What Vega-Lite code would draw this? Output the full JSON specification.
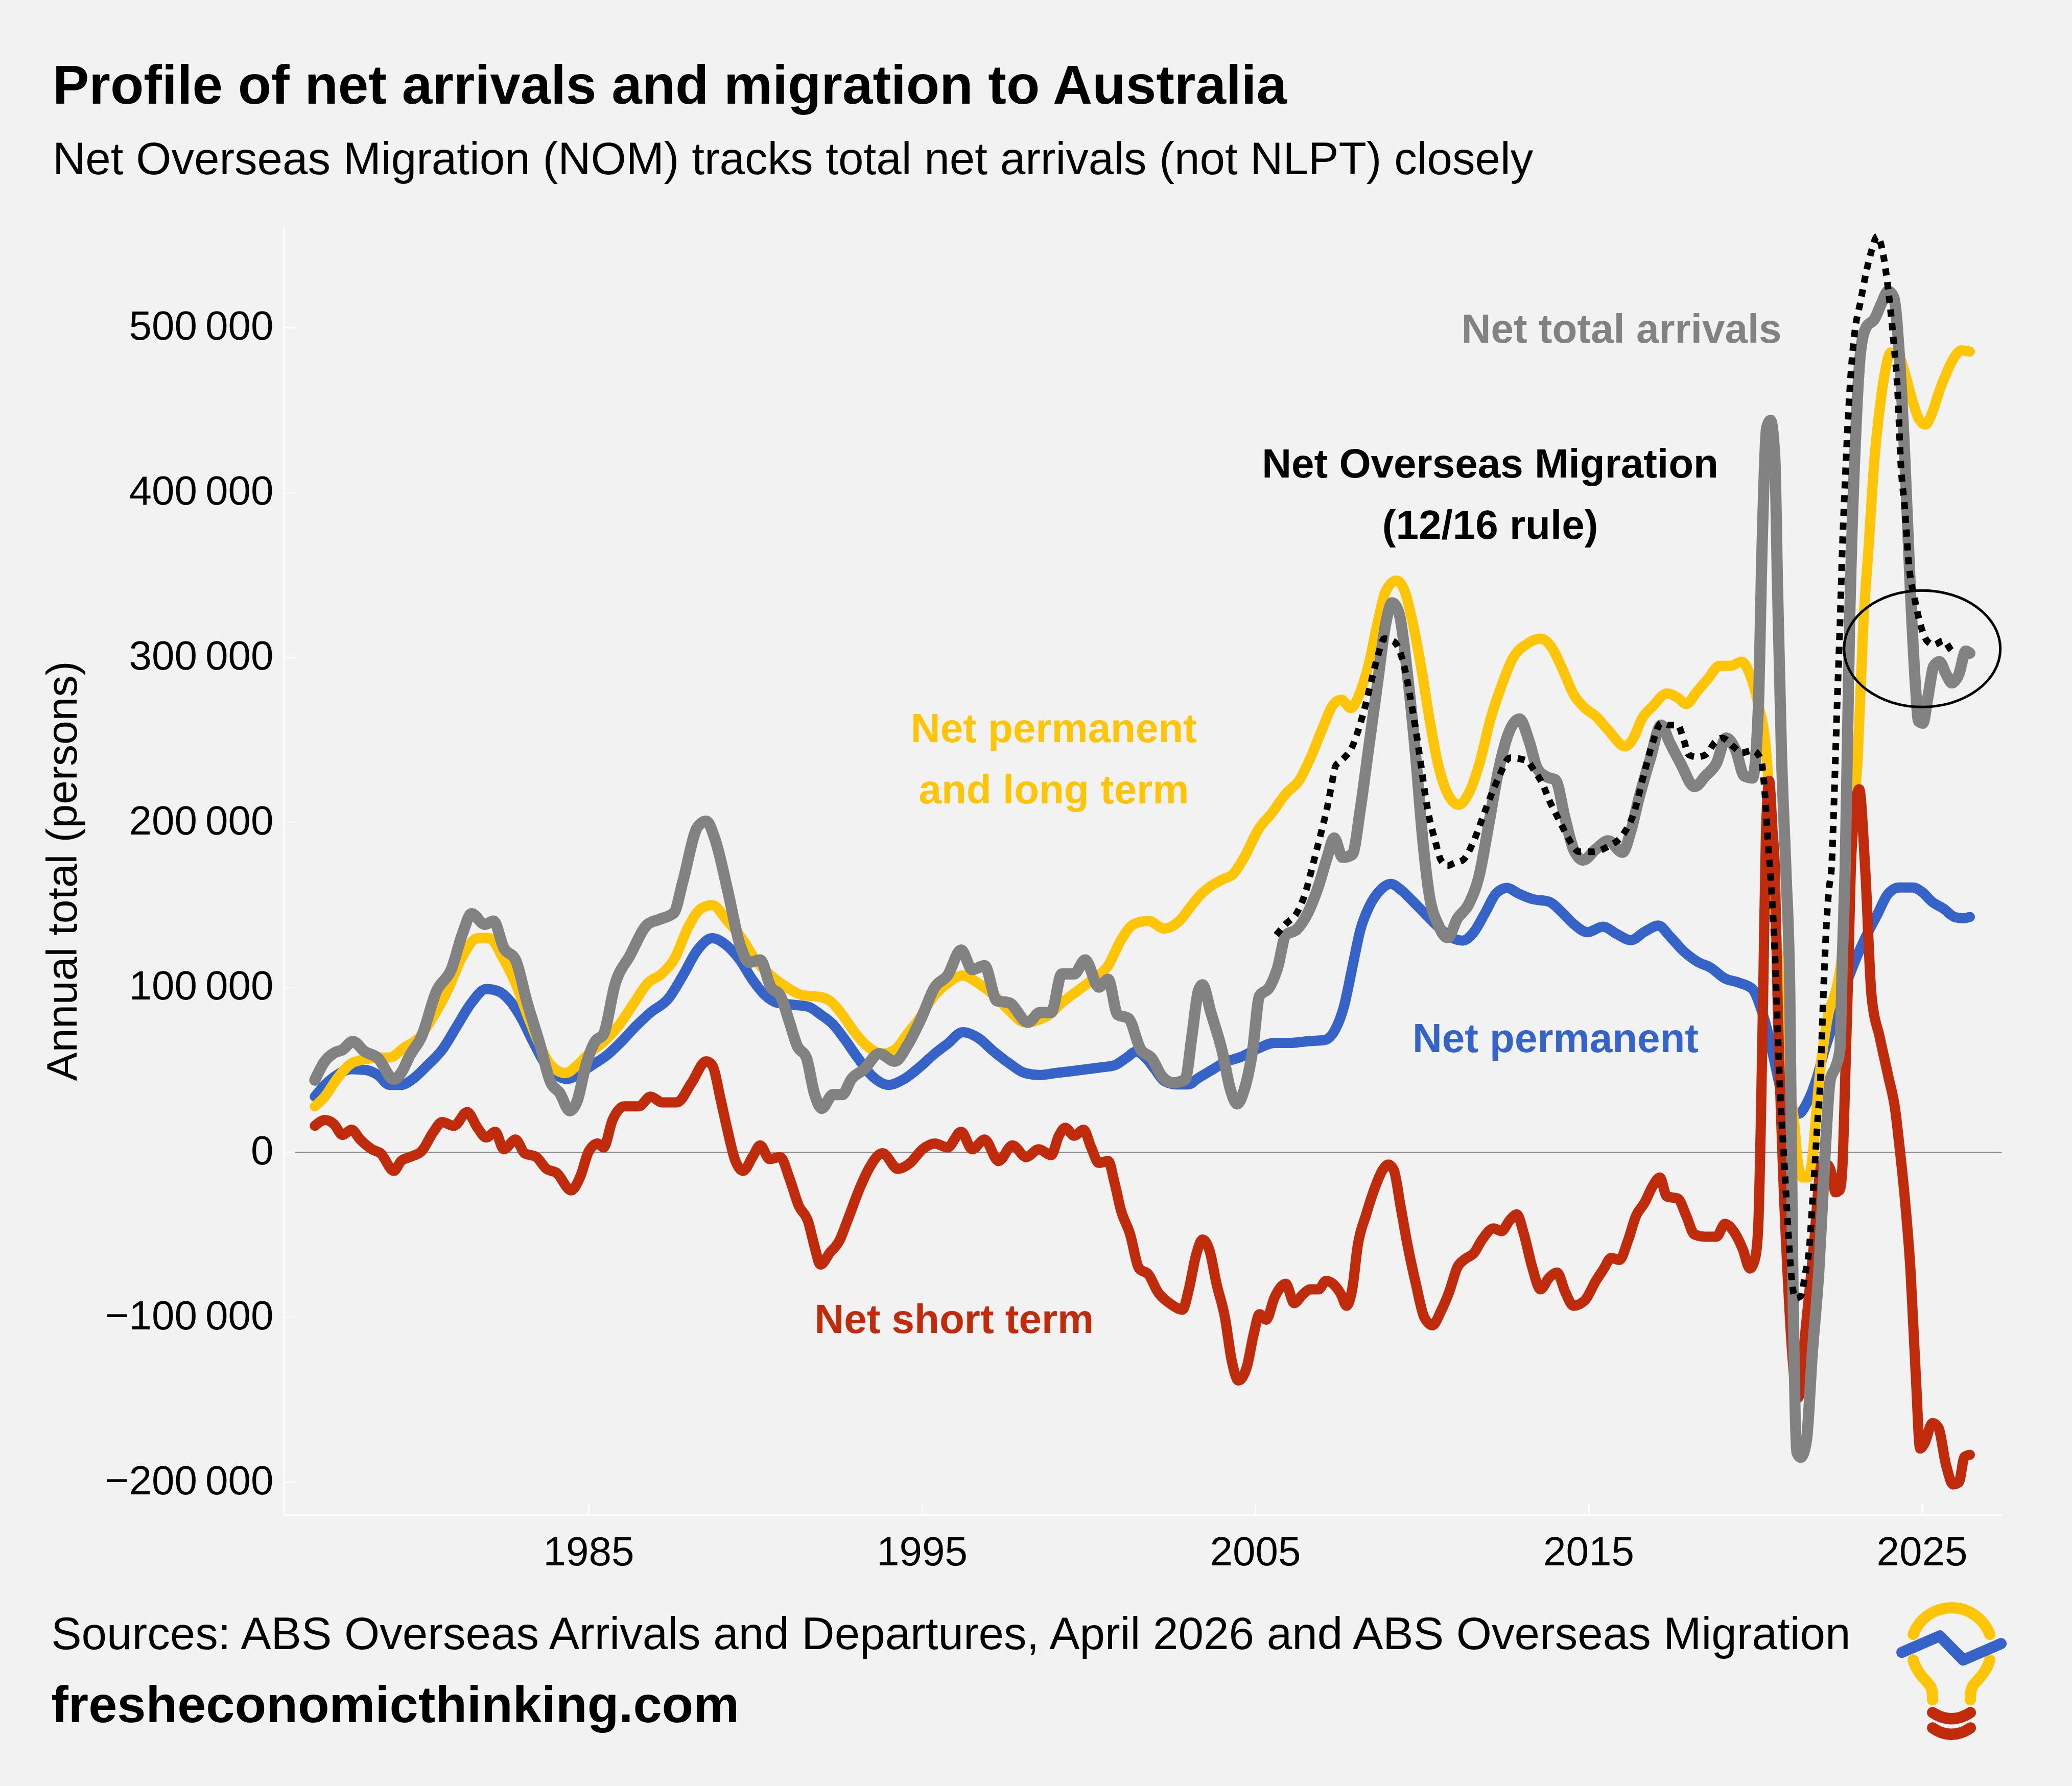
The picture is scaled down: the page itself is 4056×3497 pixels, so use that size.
{
  "$schema": "https://vega.github.io/schema/vega-lite/v6.json",
  "width": 3363,
  "height": 2521,
  "autosize": "none",
  "padding": {"left": 555, "top": 445, "right": 138, "bottom": 531},
  "background": "#f2f2f2",
  "config": {
    "view": {"stroke": null},
    "font": "Liberation Sans",
    "axis": {"labelFont": "Liberation Sans", "titleFont": "Liberation Sans"},
    "text": {"font": "Liberation Sans"}
  },
  "title": {
    "text": "Profile of net arrivals and migration to Australia",
    "subtitle": "Net Overseas Migration (NOM) tracks total net arrivals (not NLPT) closely",
    "anchor": "start", "frame": "group", "dx": -452, "offset": 76, "subtitlePadding": 46,
    "font": "Liberation Sans", "fontSize": 107, "fontWeight": "bold", "color": "black",
    "subtitleFont": "Liberation Sans", "subtitleFontSize": 89, "subtitleColor": "black"
  },
  "datasets": {
    "permanent": [
      {"year": 1976.79, "value": 33600}, {"year": 1977.09, "value": 40700}, {"year": 1977.45, "value": 46700},
      {"year": 1977.89, "value": 50200}, {"year": 1978.33, "value": 49700}, {"year": 1978.68, "value": 46700},
      {"year": 1979.03, "value": 40700}, {"year": 1979.38, "value": 40700}, {"year": 1979.73, "value": 44300},
      {"year": 1980.17, "value": 52600}, {"year": 1980.61, "value": 62000}, {"year": 1981.05, "value": 76300},
      {"year": 1981.49, "value": 90500}, {"year": 1981.93, "value": 98800}, {"year": 1982.28, "value": 97600},
      {"year": 1982.64, "value": 91700}, {"year": 1982.99, "value": 81000}, {"year": 1983.34, "value": 66800},
      {"year": 1983.69, "value": 53800}, {"year": 1984.04, "value": 46700}, {"year": 1984.35, "value": 44300},
      {"year": 1984.75, "value": 47900}, {"year": 1985.10, "value": 52600}, {"year": 1985.54, "value": 58500},
      {"year": 1985.98, "value": 66800}, {"year": 1986.42, "value": 76300}, {"year": 1986.86, "value": 84600},
      {"year": 1987.39, "value": 92900}, {"year": 1987.83, "value": 107000}, {"year": 1988.27, "value": 122500},
      {"year": 1988.71, "value": 129600}, {"year": 1989.17, "value": 124800}, {"year": 1989.54, "value": 116500},
      {"year": 1989.91, "value": 104700}, {"year": 1990.29, "value": 95200}, {"year": 1990.66, "value": 90500},
      {"year": 1991.12, "value": 89300}, {"year": 1991.59, "value": 88100}, {"year": 1991.96, "value": 83400},
      {"year": 1992.33, "value": 77500}, {"year": 1992.70, "value": 68000}, {"year": 1993.07, "value": 57300},
      {"year": 1993.54, "value": 45500}, {"year": 1994.00, "value": 40700}, {"year": 1994.47, "value": 44300},
      {"year": 1994.93, "value": 51400}, {"year": 1995.39, "value": 59700}, {"year": 1995.77, "value": 65600},
      {"year": 1996.23, "value": 72700}, {"year": 1996.69, "value": 69200}, {"year": 1997.16, "value": 60900},
      {"year": 1997.62, "value": 53800}, {"year": 1998.09, "value": 47900}, {"year": 1998.55, "value": 46700},
      {"year": 1999.01, "value": 47900}, {"year": 1999.48, "value": 49000}, {"year": 1999.94, "value": 50200},
      {"year": 2000.41, "value": 51400}, {"year": 2000.78, "value": 52600}, {"year": 2001.15, "value": 57300},
      {"year": 2001.43, "value": 60900}, {"year": 2001.71, "value": 57300}, {"year": 2001.99, "value": 50200},
      {"year": 2002.27, "value": 43100}, {"year": 2002.64, "value": 41000}, {"year": 2003.01, "value": 41000},
      {"year": 2003.26, "value": 44400}, {"year": 2003.67, "value": 49400}, {"year": 2004.09, "value": 54400},
      {"year": 2004.59, "value": 57800}, {"year": 2005.09, "value": 62800}, {"year": 2005.58, "value": 66200},
      {"year": 2006.08, "value": 66200}, {"year": 2006.58, "value": 67200}, {"year": 2007.08, "value": 67900},
      {"year": 2007.41, "value": 74600}, {"year": 2007.66, "value": 88000}, {"year": 2007.91, "value": 111500},
      {"year": 2008.16, "value": 135000}, {"year": 2008.41, "value": 148400}, {"year": 2008.74, "value": 158500},
      {"year": 2009.07, "value": 162500}, {"year": 2009.40, "value": 158500}, {"year": 2009.74, "value": 151800},
      {"year": 2010.07, "value": 145000}, {"year": 2010.48, "value": 136700}, {"year": 2010.90, "value": 129900},
      {"year": 2011.23, "value": 128200}, {"year": 2011.56, "value": 133300}, {"year": 2011.90, "value": 145000},
      {"year": 2012.23, "value": 156800}, {"year": 2012.56, "value": 160100}, {"year": 2012.89, "value": 156800},
      {"year": 2013.31, "value": 153400}, {"year": 2013.81, "value": 151800}, {"year": 2014.22, "value": 145000},
      {"year": 2014.55, "value": 138300}, {"year": 2014.97, "value": 133300}, {"year": 2015.43, "value": 136600},
      {"year": 2015.85, "value": 132200}, {"year": 2016.27, "value": 128400}, {"year": 2016.68, "value": 133500},
      {"year": 2017.10, "value": 137300}, {"year": 2017.43, "value": 131000}, {"year": 2017.84, "value": 122000},
      {"year": 2018.26, "value": 115500}, {"year": 2018.67, "value": 111700}, {"year": 2019.09, "value": 105300},
      {"year": 2019.51, "value": 102700}, {"year": 2019.92, "value": 98800}, {"year": 2020.17, "value": 87300},
      {"year": 2020.42, "value": 69300}, {"year": 2020.59, "value": 53900}, {"year": 2020.79, "value": 36000},
      {"year": 2021.04, "value": 24400}, {"year": 2021.29, "value": 23100}, {"year": 2021.58, "value": 30800},
      {"year": 2021.83, "value": 43600}, {"year": 2022.08, "value": 61600}, {"year": 2022.33, "value": 77000},
      {"year": 2022.66, "value": 97600}, {"year": 2022.99, "value": 115500}, {"year": 2023.33, "value": 130900},
      {"year": 2023.66, "value": 143800}, {"year": 2023.99, "value": 156600}, {"year": 2024.32, "value": 160400},
      {"year": 2024.74, "value": 160400}, {"year": 2024.99, "value": 157900}, {"year": 2025.32, "value": 151500},
      {"year": 2025.65, "value": 147600}, {"year": 2025.98, "value": 142500}, {"year": 2026.23, "value": 141700},
      {"year": 2026.44, "value": 142500}
    ],
    "permanentLongTerm": [
      {"year": 1976.79, "value": 27700}, {"year": 1977.09, "value": 33600}, {"year": 1977.45, "value": 44300},
      {"year": 1977.89, "value": 53800}, {"year": 1978.24, "value": 56000}, {"year": 1978.68, "value": 57300},
      {"year": 1979.03, "value": 57300}, {"year": 1979.47, "value": 63300}, {"year": 1979.91, "value": 69200},
      {"year": 1980.35, "value": 82200}, {"year": 1980.79, "value": 98800}, {"year": 1981.23, "value": 119000},
      {"year": 1981.67, "value": 129600}, {"year": 1982.02, "value": 129600}, {"year": 1982.46, "value": 116500},
      {"year": 1982.81, "value": 102300}, {"year": 1983.16, "value": 83400}, {"year": 1983.52, "value": 65600},
      {"year": 1983.87, "value": 52600}, {"year": 1984.31, "value": 47900}, {"year": 1984.66, "value": 52600},
      {"year": 1985.01, "value": 59700}, {"year": 1985.45, "value": 66800}, {"year": 1985.89, "value": 76300},
      {"year": 1986.33, "value": 89300}, {"year": 1986.77, "value": 102300}, {"year": 1987.21, "value": 108300},
      {"year": 1987.56, "value": 116500}, {"year": 1988.00, "value": 136700}, {"year": 1988.36, "value": 147400},
      {"year": 1988.71, "value": 149700}, {"year": 1989.17, "value": 140000}, {"year": 1989.64, "value": 128400},
      {"year": 1990.01, "value": 116500}, {"year": 1990.47, "value": 107000}, {"year": 1990.94, "value": 100000},
      {"year": 1991.40, "value": 95200}, {"year": 1991.96, "value": 94000}, {"year": 1992.24, "value": 91700},
      {"year": 1992.61, "value": 83400}, {"year": 1992.98, "value": 72700}, {"year": 1993.35, "value": 64400},
      {"year": 1993.82, "value": 59700}, {"year": 1994.19, "value": 62000}, {"year": 1994.56, "value": 71500},
      {"year": 1994.93, "value": 81000}, {"year": 1995.30, "value": 92900}, {"year": 1995.77, "value": 102300},
      {"year": 1996.23, "value": 107000}, {"year": 1996.69, "value": 102300}, {"year": 1997.16, "value": 95200},
      {"year": 1997.62, "value": 85800}, {"year": 1998.09, "value": 78600}, {"year": 1998.46, "value": 79800},
      {"year": 1998.83, "value": 83400}, {"year": 1999.20, "value": 90500}, {"year": 1999.66, "value": 97600},
      {"year": 2000.13, "value": 104700}, {"year": 2000.59, "value": 113000}, {"year": 2000.97, "value": 128400},
      {"year": 2001.34, "value": 137900}, {"year": 2001.80, "value": 140200}, {"year": 2002.27, "value": 135500},
      {"year": 2002.73, "value": 140200}, {"year": 2003.10, "value": 149700}, {"year": 2003.36, "value": 156000},
      {"year": 2003.59, "value": 160100}, {"year": 2004.01, "value": 165200}, {"year": 2004.34, "value": 168500},
      {"year": 2004.67, "value": 178600}, {"year": 2005.09, "value": 195400}, {"year": 2005.50, "value": 205500},
      {"year": 2005.92, "value": 217200}, {"year": 2006.33, "value": 225600}, {"year": 2006.66, "value": 239000},
      {"year": 2007.00, "value": 255800}, {"year": 2007.33, "value": 270900}, {"year": 2007.58, "value": 274200},
      {"year": 2007.87, "value": 269200}, {"year": 2008.16, "value": 279300}, {"year": 2008.41, "value": 296000},
      {"year": 2008.66, "value": 319600}, {"year": 2008.91, "value": 339700}, {"year": 2009.24, "value": 346400},
      {"year": 2009.49, "value": 339700}, {"year": 2009.74, "value": 319600}, {"year": 2009.99, "value": 292700},
      {"year": 2010.23, "value": 262500}, {"year": 2010.48, "value": 235600}, {"year": 2010.82, "value": 215500},
      {"year": 2011.11, "value": 210500}, {"year": 2011.40, "value": 217200}, {"year": 2011.73, "value": 235600},
      {"year": 2012.06, "value": 262500}, {"year": 2012.39, "value": 282600}, {"year": 2012.73, "value": 299400},
      {"year": 2013.14, "value": 307800}, {"year": 2013.56, "value": 311200}, {"year": 2013.89, "value": 306100},
      {"year": 2014.22, "value": 292700}, {"year": 2014.55, "value": 277600}, {"year": 2014.89, "value": 269200},
      {"year": 2015.22, "value": 264200}, {"year": 2015.59, "value": 255800}, {"year": 2016.10, "value": 245900},
      {"year": 2016.35, "value": 251000}, {"year": 2016.60, "value": 262600}, {"year": 2016.93, "value": 270300},
      {"year": 2017.35, "value": 278000}, {"year": 2017.68, "value": 275400}, {"year": 2017.93, "value": 271600},
      {"year": 2018.26, "value": 279300}, {"year": 2018.59, "value": 287000}, {"year": 2018.92, "value": 294700},
      {"year": 2019.26, "value": 294700}, {"year": 2019.59, "value": 297300}, {"year": 2019.84, "value": 289600},
      {"year": 2020.09, "value": 271600}, {"year": 2020.34, "value": 240800}, {"year": 2020.42, "value": 215000},
      {"year": 2020.50, "value": 172000}, {"year": 2020.59, "value": 146300}, {"year": 2020.75, "value": 95000},
      {"year": 2021.00, "value": 43600}, {"year": 2021.17, "value": 18000}, {"year": 2021.29, "value": -7700},
      {"year": 2021.42, "value": -15400}, {"year": 2021.58, "value": -15400}, {"year": 2021.71, "value": -5000},
      {"year": 2021.83, "value": 23000}, {"year": 2021.96, "value": 51400}, {"year": 2022.08, "value": 69300},
      {"year": 2022.21, "value": 85000}, {"year": 2022.33, "value": 92000}, {"year": 2022.45, "value": 100000},
      {"year": 2022.58, "value": 115000}, {"year": 2022.72, "value": 150000}, {"year": 2022.90, "value": 195000},
      {"year": 2023.08, "value": 240800}, {"year": 2023.24, "value": 317800}, {"year": 2023.41, "value": 369000},
      {"year": 2023.58, "value": 420500}, {"year": 2023.74, "value": 451300}, {"year": 2023.91, "value": 474400},
      {"year": 2024.07, "value": 484700}, {"year": 2024.32, "value": 482000}, {"year": 2024.53, "value": 469300},
      {"year": 2024.74, "value": 453900}, {"year": 2024.90, "value": 444900}, {"year": 2025.11, "value": 441000},
      {"year": 2025.32, "value": 448700}, {"year": 2025.53, "value": 461600}, {"year": 2025.73, "value": 471800},
      {"year": 2025.98, "value": 482000}, {"year": 2026.19, "value": 486000}, {"year": 2026.44, "value": 485200}
    ],
    "shortTerm": [
      {"year": 1976.79, "value": 15900}, {"year": 1977.09, "value": 19400}, {"year": 1977.36, "value": 17000},
      {"year": 1977.62, "value": 10400}, {"year": 1977.89, "value": 13500}, {"year": 1978.15, "value": 7600},
      {"year": 1978.50, "value": 1700}, {"year": 1978.76, "value": -700}, {"year": 1979.16, "value": -11400},
      {"year": 1979.38, "value": -5400}, {"year": 1979.64, "value": -3000}, {"year": 1979.99, "value": 500},
      {"year": 1980.35, "value": 12300}, {"year": 1980.61, "value": 18200}, {"year": 1980.96, "value": 15900},
      {"year": 1981.36, "value": 24200}, {"year": 1981.67, "value": 14700}, {"year": 1981.93, "value": 8800},
      {"year": 1982.20, "value": 12300}, {"year": 1982.46, "value": 1700}, {"year": 1982.81, "value": 7600},
      {"year": 1983.08, "value": -700}, {"year": 1983.43, "value": -3000}, {"year": 1983.74, "value": -10200},
      {"year": 1984.04, "value": -12600}, {"year": 1984.48, "value": -23200}, {"year": 1984.75, "value": -15000},
      {"year": 1985.01, "value": 500}, {"year": 1985.28, "value": 5200}, {"year": 1985.45, "value": 2800},
      {"year": 1985.72, "value": 19400}, {"year": 1986.07, "value": 27700}, {"year": 1986.51, "value": 27700},
      {"year": 1986.86, "value": 33600}, {"year": 1987.21, "value": 30100}, {"year": 1987.65, "value": 30100},
      {"year": 1988.09, "value": 41900}, {"year": 1988.53, "value": 55000}, {"year": 1988.71, "value": 52600},
      {"year": 1988.97, "value": 31300}, {"year": 1989.15, "value": 15000}, {"year": 1989.40, "value": -5000},
      {"year": 1989.64, "value": -11400}, {"year": 1989.92, "value": -3000}, {"year": 1990.15, "value": 4000},
      {"year": 1990.43, "value": -4300}, {"year": 1990.75, "value": -3000}, {"year": 1991.03, "value": -16000},
      {"year": 1991.31, "value": -32700}, {"year": 1991.59, "value": -42200}, {"year": 1991.77, "value": -56400},
      {"year": 1991.96, "value": -68200}, {"year": 1992.24, "value": -61100}, {"year": 1992.52, "value": -54000},
      {"year": 1992.80, "value": -39800}, {"year": 1993.16, "value": -20800}, {"year": 1993.44, "value": -9000},
      {"year": 1993.82, "value": -700}, {"year": 1994.28, "value": -10200}, {"year": 1994.65, "value": -6600},
      {"year": 1995.02, "value": 1700}, {"year": 1995.39, "value": 5200}, {"year": 1995.77, "value": 2800},
      {"year": 1996.18, "value": 12300}, {"year": 1996.51, "value": 1700}, {"year": 1996.88, "value": 7600},
      {"year": 1997.30, "value": -5400}, {"year": 1997.72, "value": 4000}, {"year": 1998.13, "value": -3000},
      {"year": 1998.51, "value": 1700}, {"year": 1998.88, "value": -1900}, {"year": 1999.11, "value": 9900},
      {"year": 1999.30, "value": 14700}, {"year": 1999.57, "value": 9900}, {"year": 1999.85, "value": 13500},
      {"year": 2000.08, "value": 2800}, {"year": 2000.31, "value": -6600}, {"year": 2000.59, "value": -5400},
      {"year": 2000.78, "value": -18500}, {"year": 2000.97, "value": -35100}, {"year": 2001.24, "value": -49300},
      {"year": 2001.52, "value": -70600}, {"year": 2001.80, "value": -74200}, {"year": 2002.08, "value": -84800},
      {"year": 2002.45, "value": -91900}, {"year": 2002.82, "value": -95500}, {"year": 2003.01, "value": -83200},
      {"year": 2003.22, "value": -63000}, {"year": 2003.42, "value": -53000}, {"year": 2003.63, "value": -59700},
      {"year": 2003.84, "value": -79800}, {"year": 2004.09, "value": -100000}, {"year": 2004.30, "value": -126800},
      {"year": 2004.50, "value": -138500}, {"year": 2004.75, "value": -130200}, {"year": 2004.96, "value": -110000},
      {"year": 2005.13, "value": -98300}, {"year": 2005.33, "value": -101600}, {"year": 2005.58, "value": -88200},
      {"year": 2005.92, "value": -79800}, {"year": 2006.17, "value": -91600}, {"year": 2006.42, "value": -86500},
      {"year": 2006.66, "value": -83200}, {"year": 2006.91, "value": -83200}, {"year": 2007.12, "value": -78100},
      {"year": 2007.33, "value": -79800}, {"year": 2007.58, "value": -86500}, {"year": 2007.74, "value": -93200},
      {"year": 2007.91, "value": -83200}, {"year": 2008.08, "value": -56300}, {"year": 2008.33, "value": -37800},
      {"year": 2008.57, "value": -22800}, {"year": 2008.82, "value": -11000}, {"year": 2008.99, "value": -7600},
      {"year": 2009.16, "value": -11000}, {"year": 2009.36, "value": -32800}, {"year": 2009.57, "value": -56300},
      {"year": 2009.82, "value": -79800}, {"year": 2010.07, "value": -100000}, {"year": 2010.32, "value": -105000},
      {"year": 2010.57, "value": -96600}, {"year": 2010.82, "value": -84800}, {"year": 2011.07, "value": -69700},
      {"year": 2011.31, "value": -64700}, {"year": 2011.56, "value": -61300}, {"year": 2011.81, "value": -53000},
      {"year": 2012.15, "value": -46300}, {"year": 2012.39, "value": -47900}, {"year": 2012.64, "value": -41200},
      {"year": 2012.85, "value": -37800}, {"year": 2013.06, "value": -49600}, {"year": 2013.31, "value": -69700},
      {"year": 2013.56, "value": -83200}, {"year": 2013.81, "value": -76400}, {"year": 2014.06, "value": -73100},
      {"year": 2014.30, "value": -84800}, {"year": 2014.55, "value": -93200}, {"year": 2014.89, "value": -89900},
      {"year": 2015.22, "value": -78100}, {"year": 2015.45, "value": -71000}, {"year": 2015.68, "value": -64200},
      {"year": 2015.93, "value": -65400}, {"year": 2016.18, "value": -53900}, {"year": 2016.43, "value": -38500},
      {"year": 2016.68, "value": -30800}, {"year": 2016.93, "value": -20500}, {"year": 2017.14, "value": -15400},
      {"year": 2017.35, "value": -26900}, {"year": 2017.68, "value": -28200}, {"year": 2017.93, "value": -38500},
      {"year": 2018.18, "value": -50000}, {"year": 2018.51, "value": -51300}, {"year": 2018.84, "value": -51300},
      {"year": 2019.09, "value": -43600}, {"year": 2019.38, "value": -48800}, {"year": 2019.63, "value": -59000},
      {"year": 2019.84, "value": -70600}, {"year": 2020.00, "value": -64200}, {"year": 2020.09, "value": -46200},
      {"year": 2020.17, "value": 18000}, {"year": 2020.25, "value": 107800}, {"year": 2020.32, "value": 190000},
      {"year": 2020.42, "value": 225000}, {"year": 2020.52, "value": 195000}, {"year": 2020.59, "value": 172000},
      {"year": 2020.67, "value": 95000}, {"year": 2020.83, "value": -7700}, {"year": 2021.00, "value": -84700},
      {"year": 2021.17, "value": -136000}, {"year": 2021.29, "value": -148900}, {"year": 2021.50, "value": -110400},
      {"year": 2021.75, "value": -59000}, {"year": 2022.00, "value": -7700}, {"year": 2022.16, "value": -7700},
      {"year": 2022.29, "value": -12800}, {"year": 2022.41, "value": -24400}, {"year": 2022.54, "value": -23000},
      {"year": 2022.62, "value": -7700}, {"year": 2022.70, "value": 43600}, {"year": 2022.79, "value": 107800},
      {"year": 2022.87, "value": 172000}, {"year": 2022.98, "value": 205000}, {"year": 2023.12, "value": 220000},
      {"year": 2023.30, "value": 172000}, {"year": 2023.49, "value": 95000}, {"year": 2023.74, "value": 69300},
      {"year": 2023.99, "value": 46200}, {"year": 2024.20, "value": 25700}, {"year": 2024.32, "value": 5100},
      {"year": 2024.49, "value": -28200}, {"year": 2024.66, "value": -71900}, {"year": 2024.82, "value": -136000},
      {"year": 2024.95, "value": -179700}, {"year": 2025.07, "value": -177100}, {"year": 2025.32, "value": -164300},
      {"year": 2025.49, "value": -166800}, {"year": 2025.73, "value": -190000}, {"year": 2025.94, "value": -201500},
      {"year": 2026.11, "value": -200200}, {"year": 2026.28, "value": -184800}, {"year": 2026.44, "value": -183500}
    ],
    "totalArrivals": [
      {"year": 1976.79, "value": 43600}, {"year": 1977.09, "value": 55000}, {"year": 1977.36, "value": 60000},
      {"year": 1977.62, "value": 62000}, {"year": 1977.93, "value": 67000}, {"year": 1978.28, "value": 61000},
      {"year": 1978.68, "value": 57000}, {"year": 1979.16, "value": 44000}, {"year": 1979.38, "value": 48000},
      {"year": 1979.64, "value": 58500}, {"year": 1979.99, "value": 70000}, {"year": 1980.44, "value": 97600},
      {"year": 1980.88, "value": 110600}, {"year": 1981.23, "value": 133000}, {"year": 1981.49, "value": 144500},
      {"year": 1981.89, "value": 138000}, {"year": 1982.15, "value": 140000}, {"year": 1982.46, "value": 123700},
      {"year": 1982.81, "value": 116500}, {"year": 1983.16, "value": 90500}, {"year": 1983.52, "value": 66800},
      {"year": 1983.87, "value": 42000}, {"year": 1984.13, "value": 36000}, {"year": 1984.44, "value": 25000},
      {"year": 1984.66, "value": 31000}, {"year": 1984.92, "value": 52600}, {"year": 1985.19, "value": 66800},
      {"year": 1985.45, "value": 71500}, {"year": 1985.80, "value": 102000}, {"year": 1986.24, "value": 119000},
      {"year": 1986.77, "value": 138000}, {"year": 1987.12, "value": 141000}, {"year": 1987.56, "value": 145000},
      {"year": 1987.83, "value": 164000}, {"year": 1988.27, "value": 197000}, {"year": 1988.53, "value": 200600},
      {"year": 1988.79, "value": 190000}, {"year": 1989.17, "value": 159000}, {"year": 1989.54, "value": 126000},
      {"year": 1989.82, "value": 115000}, {"year": 1990.15, "value": 116500}, {"year": 1990.47, "value": 100000},
      {"year": 1990.75, "value": 95000}, {"year": 1991.03, "value": 78600}, {"year": 1991.26, "value": 64400},
      {"year": 1991.54, "value": 57000}, {"year": 1991.77, "value": 36000}, {"year": 1992.00, "value": 26500},
      {"year": 1992.33, "value": 34800}, {"year": 1992.61, "value": 34800}, {"year": 1992.89, "value": 44300},
      {"year": 1993.26, "value": 50000}, {"year": 1993.72, "value": 59700}, {"year": 1994.19, "value": 55000},
      {"year": 1994.56, "value": 64400}, {"year": 1994.98, "value": 81000}, {"year": 1995.39, "value": 100000},
      {"year": 1995.77, "value": 107000}, {"year": 1996.18, "value": 122500}, {"year": 1996.51, "value": 110600},
      {"year": 1996.88, "value": 113000}, {"year": 1997.25, "value": 91700}, {"year": 1997.62, "value": 90500},
      {"year": 1998.18, "value": 78600}, {"year": 1998.55, "value": 84600}, {"year": 1998.88, "value": 84600},
      {"year": 1999.20, "value": 108000}, {"year": 1999.57, "value": 108000}, {"year": 1999.90, "value": 116500},
      {"year": 2000.31, "value": 100000}, {"year": 2000.59, "value": 104700}, {"year": 2000.87, "value": 83400},
      {"year": 2001.20, "value": 81000}, {"year": 2001.57, "value": 62000}, {"year": 2001.89, "value": 57000},
      {"year": 2002.22, "value": 45500}, {"year": 2002.54, "value": 42000}, {"year": 2002.90, "value": 44000},
      {"year": 2003.10, "value": 70000}, {"year": 2003.30, "value": 98000}, {"year": 2003.42, "value": 101400},
      {"year": 2003.67, "value": 84600}, {"year": 2004.01, "value": 61200}, {"year": 2004.26, "value": 37700},
      {"year": 2004.46, "value": 29200}, {"year": 2004.67, "value": 37700}, {"year": 2004.92, "value": 61200},
      {"year": 2005.13, "value": 94700}, {"year": 2005.42, "value": 99700}, {"year": 2005.67, "value": 111500},
      {"year": 2005.92, "value": 131600}, {"year": 2006.25, "value": 135000}, {"year": 2006.58, "value": 145000},
      {"year": 2006.91, "value": 161800}, {"year": 2007.16, "value": 178600}, {"year": 2007.37, "value": 190400},
      {"year": 2007.62, "value": 178600}, {"year": 2007.91, "value": 180300}, {"year": 2008.16, "value": 208800},
      {"year": 2008.41, "value": 245700}, {"year": 2008.66, "value": 282600}, {"year": 2008.91, "value": 319600},
      {"year": 2009.11, "value": 333000}, {"year": 2009.32, "value": 326300}, {"year": 2009.57, "value": 289300},
      {"year": 2009.82, "value": 239000}, {"year": 2010.03, "value": 188700}, {"year": 2010.23, "value": 155000},
      {"year": 2010.48, "value": 138300}, {"year": 2010.77, "value": 129900}, {"year": 2011.07, "value": 141700},
      {"year": 2011.40, "value": 150000}, {"year": 2011.73, "value": 168500}, {"year": 2011.98, "value": 195400},
      {"year": 2012.31, "value": 232300}, {"year": 2012.64, "value": 255800}, {"year": 2012.93, "value": 262500},
      {"year": 2013.22, "value": 249000}, {"year": 2013.47, "value": 232300}, {"year": 2013.76, "value": 227300},
      {"year": 2014.01, "value": 225600}, {"year": 2014.30, "value": 202000}, {"year": 2014.55, "value": 183600},
      {"year": 2014.84, "value": 177000}, {"year": 2015.22, "value": 183600}, {"year": 2015.59, "value": 188700},
      {"year": 2016.02, "value": 181700}, {"year": 2016.27, "value": 194600}, {"year": 2016.52, "value": 215000},
      {"year": 2016.85, "value": 238200}, {"year": 2017.18, "value": 258800}, {"year": 2017.43, "value": 248500},
      {"year": 2017.76, "value": 235700}, {"year": 2018.18, "value": 221500}, {"year": 2018.51, "value": 228000},
      {"year": 2018.84, "value": 235700}, {"year": 2019.13, "value": 251000}, {"year": 2019.42, "value": 243400},
      {"year": 2019.67, "value": 228000}, {"year": 2019.92, "value": 226700}, {"year": 2020.09, "value": 266500},
      {"year": 2020.21, "value": 369000}, {"year": 2020.34, "value": 438500}, {"year": 2020.46, "value": 443600},
      {"year": 2020.59, "value": 420500}, {"year": 2020.67, "value": 343500}, {"year": 2020.79, "value": 240800},
      {"year": 2020.92, "value": 172000}, {"year": 2021.04, "value": 95000}, {"year": 2021.12, "value": -59000},
      {"year": 2021.25, "value": -182000}, {"year": 2021.37, "value": -185000}, {"year": 2021.54, "value": -174500},
      {"year": 2021.71, "value": -123000}, {"year": 2021.91, "value": -72000}, {"year": 2022.08, "value": -7700},
      {"year": 2022.25, "value": 43600}, {"year": 2022.41, "value": 51400}, {"year": 2022.54, "value": 61600},
      {"year": 2022.62, "value": 120700}, {"year": 2022.70, "value": 172000}, {"year": 2022.83, "value": 317800},
      {"year": 2023.04, "value": 446000}, {"year": 2023.16, "value": 484700}, {"year": 2023.33, "value": 500000},
      {"year": 2023.58, "value": 505000}, {"year": 2023.78, "value": 514000}, {"year": 2023.99, "value": 521900},
      {"year": 2024.16, "value": 518000}, {"year": 2024.32, "value": 484700}, {"year": 2024.49, "value": 420500},
      {"year": 2024.65, "value": 343500}, {"year": 2024.82, "value": 279300}, {"year": 2024.90, "value": 261300},
      {"year": 2025.03, "value": 260000}, {"year": 2025.19, "value": 276700}, {"year": 2025.36, "value": 294700},
      {"year": 2025.53, "value": 297300}, {"year": 2025.73, "value": 289600}, {"year": 2025.90, "value": 284400},
      {"year": 2026.11, "value": 289600}, {"year": 2026.32, "value": 303700}, {"year": 2026.44, "value": 302400}
    ],
    "nom": [
      {"year": 2005.63, "value": 131600}, {"year": 2005.92, "value": 138300}, {"year": 2006.25, "value": 145000},
      {"year": 2006.50, "value": 156800}, {"year": 2006.66, "value": 168500}, {"year": 2006.83, "value": 182000},
      {"year": 2007.00, "value": 195400}, {"year": 2007.16, "value": 208800}, {"year": 2007.29, "value": 222200},
      {"year": 2007.41, "value": 234000}, {"year": 2007.58, "value": 237300}, {"year": 2007.91, "value": 245700},
      {"year": 2008.12, "value": 257500}, {"year": 2008.33, "value": 272600}, {"year": 2008.49, "value": 286000},
      {"year": 2008.66, "value": 299400}, {"year": 2008.87, "value": 311200}, {"year": 2009.16, "value": 309500},
      {"year": 2009.32, "value": 304500}, {"year": 2009.49, "value": 292700}, {"year": 2009.65, "value": 276000},
      {"year": 2009.82, "value": 255800}, {"year": 2009.99, "value": 232300}, {"year": 2010.11, "value": 215500},
      {"year": 2010.23, "value": 202000}, {"year": 2010.40, "value": 188700}, {"year": 2010.57, "value": 177000},
      {"year": 2010.77, "value": 173600}, {"year": 2010.98, "value": 175300}, {"year": 2011.23, "value": 177000},
      {"year": 2011.56, "value": 188700}, {"year": 2011.81, "value": 202000}, {"year": 2012.06, "value": 215500},
      {"year": 2012.31, "value": 227300}, {"year": 2012.64, "value": 239000}, {"year": 2013.14, "value": 237300},
      {"year": 2013.39, "value": 230600}, {"year": 2013.60, "value": 224000}, {"year": 2013.85, "value": 212000},
      {"year": 2014.14, "value": 200400}, {"year": 2014.39, "value": 190400}, {"year": 2014.72, "value": 182000},
      {"year": 2015.14, "value": 182000}, {"year": 2015.59, "value": 185300}, {"year": 2016.02, "value": 192000},
      {"year": 2016.35, "value": 204800}, {"year": 2016.68, "value": 230500}, {"year": 2016.93, "value": 248500},
      {"year": 2017.18, "value": 260000}, {"year": 2017.43, "value": 258800}, {"year": 2017.68, "value": 258800},
      {"year": 2017.84, "value": 251000}, {"year": 2018.01, "value": 240800}, {"year": 2018.26, "value": 239500},
      {"year": 2018.51, "value": 240800}, {"year": 2018.80, "value": 248500}, {"year": 2019.01, "value": 251000},
      {"year": 2019.34, "value": 245900}, {"year": 2019.59, "value": 242000}, {"year": 2019.92, "value": 243400},
      {"year": 2020.17, "value": 238200}, {"year": 2020.30, "value": 215000}, {"year": 2020.38, "value": 189500},
      {"year": 2020.46, "value": 168000}, {"year": 2020.59, "value": 120700}, {"year": 2020.67, "value": 77000},
      {"year": 2020.75, "value": 36000}, {"year": 2020.83, "value": 7700}, {"year": 2020.92, "value": -23000},
      {"year": 2021.00, "value": -51000}, {"year": 2021.08, "value": -74000}, {"year": 2021.21, "value": -88600},
      {"year": 2021.37, "value": -87300}, {"year": 2021.50, "value": -74000}, {"year": 2021.62, "value": -59000},
      {"year": 2021.71, "value": -33000}, {"year": 2021.79, "value": -7700}, {"year": 2021.87, "value": 18000},
      {"year": 2021.96, "value": 46000}, {"year": 2022.00, "value": 69300}, {"year": 2022.06, "value": 102700},
      {"year": 2022.12, "value": 131000}, {"year": 2022.21, "value": 159000}, {"year": 2022.29, "value": 172000},
      {"year": 2022.37, "value": 215000}, {"year": 2022.45, "value": 266500}, {"year": 2022.54, "value": 317800},
      {"year": 2022.62, "value": 369000}, {"year": 2022.70, "value": 407600}, {"year": 2022.79, "value": 446000},
      {"year": 2022.87, "value": 471800}, {"year": 2022.99, "value": 497500}, {"year": 2023.16, "value": 515500},
      {"year": 2023.33, "value": 533400}, {"year": 2023.49, "value": 546300}, {"year": 2023.66, "value": 555200},
      {"year": 2023.82, "value": 546300}, {"year": 2023.99, "value": 523000}, {"year": 2024.16, "value": 489800},
      {"year": 2024.28, "value": 459000}, {"year": 2024.36, "value": 420500}, {"year": 2024.49, "value": 389700},
      {"year": 2024.61, "value": 356300}, {"year": 2024.78, "value": 335800}, {"year": 2024.95, "value": 320400},
      {"year": 2025.15, "value": 310000}, {"year": 2025.36, "value": 307500}, {"year": 2025.65, "value": 310000},
      {"year": 2025.90, "value": 303700}, {"year": 2025.98, "value": 302400}
    ],
    "labels": [
      {"label": "Net total arrivals", "series": "Net total arrivals", "year": 2015.99, "value": 490600},
      {"label": "Net Overseas Migration", "series": "Net Overseas Migration", "year": 2012.05, "value": 408800},
      {"label": "(12/16 rule)", "series": "Net Overseas Migration", "year": 2012.05, "value": 371700},
      {"label": "Net permanent", "series": "Net permanent and long term", "year": 1998.96, "value": 248500},
      {"label": "and long term", "series": "Net permanent and long term", "year": 1998.96, "value": 211300},
      {"label": "Net permanent", "series": "Net permanent", "year": 2014.01, "value": 60600},
      {"label": "Net short term", "series": "Net short term", "year": 1995.97, "value": -109700}
    ],
    "highlight": [
      {"year": 2025.01, "value": 305100}
    ],
    "notes": [
      {"note": "Sources: ABS Overseas Arrivals and Departures, April 2026 and ABS Overseas Migration", "kind": "source", "year": 1968.88, "value": -301400},
      {"note": "fresheconomicthinking.com", "kind": "site", "year": 1968.88, "value": -345700}
    ],
    "logo": [
      {"part": "bulb top", "series": "Net permanent and long term", "year": 2025.89, "value": -314100},
      {"part": "bulb left", "series": "Net permanent and long term", "year": 2025.89, "value": -314100},
      {"part": "bulb right", "series": "Net permanent and long term", "year": 2025.89, "value": -314100},
      {"part": "zigzag", "series": "Net permanent", "year": 2025.89, "value": -314100},
      {"part": "base upper", "series": "Net short term", "year": 2025.89, "value": -314100},
      {"part": "base lower", "series": "Net short term", "year": 2025.89, "value": -314100}
    ]
  },
  "encoding": {
    "x": {
      "field": "year", "type": "quantitative",
      "scale": {"domain": [1975.85, 2027.39], "nice": false, "zero": false},
      "axis": {
        "title": null, "values": [1985, 1995, 2005, 2015, 2025], "format": "d",
        "grid": false, "domainColor": "white", "domainWidth": 3,
        "tickColor": "white", "tickWidth": 3, "tickSize": -23,
        "labelPadding": 58, "labelFontSize": 80, "labelColor": "black", "labelFlush": false
      }
    },
    "y": {
      "field": "value", "type": "quantitative",
      "scale": {"domain": [-219900, 560600], "nice": false, "zero": false},
      "axis": {
        "title": "Annual total (persons)", "titleFontSize": 84, "titleFontWeight": "normal",
        "titleColor": "black", "titleX": -431, "titleY": 1260, "titleAngle": -90,
        "titleAlign": "center", "titleBaseline": "middle",
        "values": [-200000, -100000, 0, 100000, 200000, 300000, 400000, 500000],
        "labelExpr": "replace(format(datum.value, ','), ',', '\u2009')",
        "labelLimit": 0,
        "domainColor": "white", "domainWidth": 3,
        "tickColor": "white", "tickWidth": 3, "tickSize": -22,
        "labelPadding": 42, "labelFontSize": 80, "labelColor": "black",
        "grid": true, "gridColor": "#8c8c8c", "gridWidth": 2.5,
        "gridOpacity": {"condition": {"test": "datum.value === 0", "value": 1}, "value": 0}
      }
    }
  },
  "layer": [
    {
      "data": {"name": "permanent"},
      "mark": {"type": "line", "color": "#3563c8", "strokeWidth": 20, "interpolate": "monotone", "strokeCap": "round", "strokeJoin": "round"}
    },
    {
      "data": {"name": "permanentLongTerm"},
      "mark": {"type": "line", "color": "#ffc506", "strokeWidth": 20, "interpolate": "monotone", "strokeCap": "round", "strokeJoin": "round"}
    },
    {
      "data": {"name": "shortTerm"},
      "mark": {"type": "line", "color": "#c02b0c", "strokeWidth": 20, "interpolate": "monotone", "strokeCap": "round", "strokeJoin": "round"}
    },
    {
      "data": {"name": "totalArrivals"},
      "mark": {"type": "line", "color": "#828282", "strokeWidth": 22, "interpolate": "monotone", "strokeCap": "round", "strokeJoin": "round"}
    },
    {
      "data": {"name": "nom"},
      "mark": {"type": "line", "color": "black", "strokeWidth": 13, "strokeDash": [14, 13], "interpolate": "monotone"}
    },
    {
      "data": {"name": "highlight"},
      "mark": {
        "type": "point", "filled": false, "opacity": 1, "size": 4, "stroke": "black", "strokeWidth": 5,
        "shape": "M -153 0 A 153 114 0 1 0 153 0 A 153 114 0 1 0 -153 0 Z"
      }
    },
    {
      "data": {"name": "labels"},
      "mark": {"type": "text", "fontSize": 80, "fontWeight": "bold", "align": "center", "baseline": "alphabetic"},
      "encoding": {
        "text": {"field": "label"},
        "color": {
          "field": "series", "type": "nominal", "legend": null,
          "scale": {
            "domain": ["Net total arrivals", "Net Overseas Migration", "Net permanent and long term", "Net permanent", "Net short term"],
            "range": ["#828282", "black", "#ffc506", "#3563c8", "#c02b0c"]
          }
        }
      }
    },
    {
      "data": {"name": "notes"},
      "transform": [{"filter": "datum.kind === 'source'"}],
      "mark": {"type": "text", "fontSize": 89, "align": "left", "baseline": "alphabetic", "color": "black"},
      "encoding": {"text": {"field": "note"}}
    },
    {
      "data": {"name": "notes"},
      "transform": [{"filter": "datum.kind === 'site'"}],
      "mark": {"type": "text", "fontSize": 101, "fontWeight": "bold", "align": "left", "baseline": "alphabetic", "color": "black"},
      "encoding": {"text": {"field": "note"}}
    },
    {
      "data": {"name": "logo"},
      "mark": {"type": "point", "filled": false, "opacity": 1, "size": 4, "strokeWidth": 22, "strokeCap": "round", "strokeJoin": "round"},
      "encoding": {
        "shape": {
          "field": "part", "type": "nominal", "legend": null,
          "scale": {
            "domain": ["bulb top", "bulb left", "bulb right", "zigzag", "base upper", "base lower"],
            "range": [
              "M -75 -70 A 80 80 0 0 1 75 -70",
              "M -75 -20 C -68 5 -50 20 -42 30 C -37 38 -37 48 -37 58",
              "M 75 -20 C 68 5 50 20 42 30 C 37 38 37 48 37 58",
              "M -97 -35 L -23 -67 L 23 -20 L 97 -52",
              "M -37 83 Q 0 107 37 83",
              "M -37 113 Q 0 138 37 113"
            ]
          }
        },
        "color": {
          "field": "series", "type": "nominal", "legend": null,
          "scale": {
            "domain": ["Net total arrivals", "Net Overseas Migration", "Net permanent and long term", "Net permanent", "Net short term"],
            "range": ["#828282", "black", "#ffc506", "#3563c8", "#c02b0c"]
          }
        }
      }
    }
  ]
}
